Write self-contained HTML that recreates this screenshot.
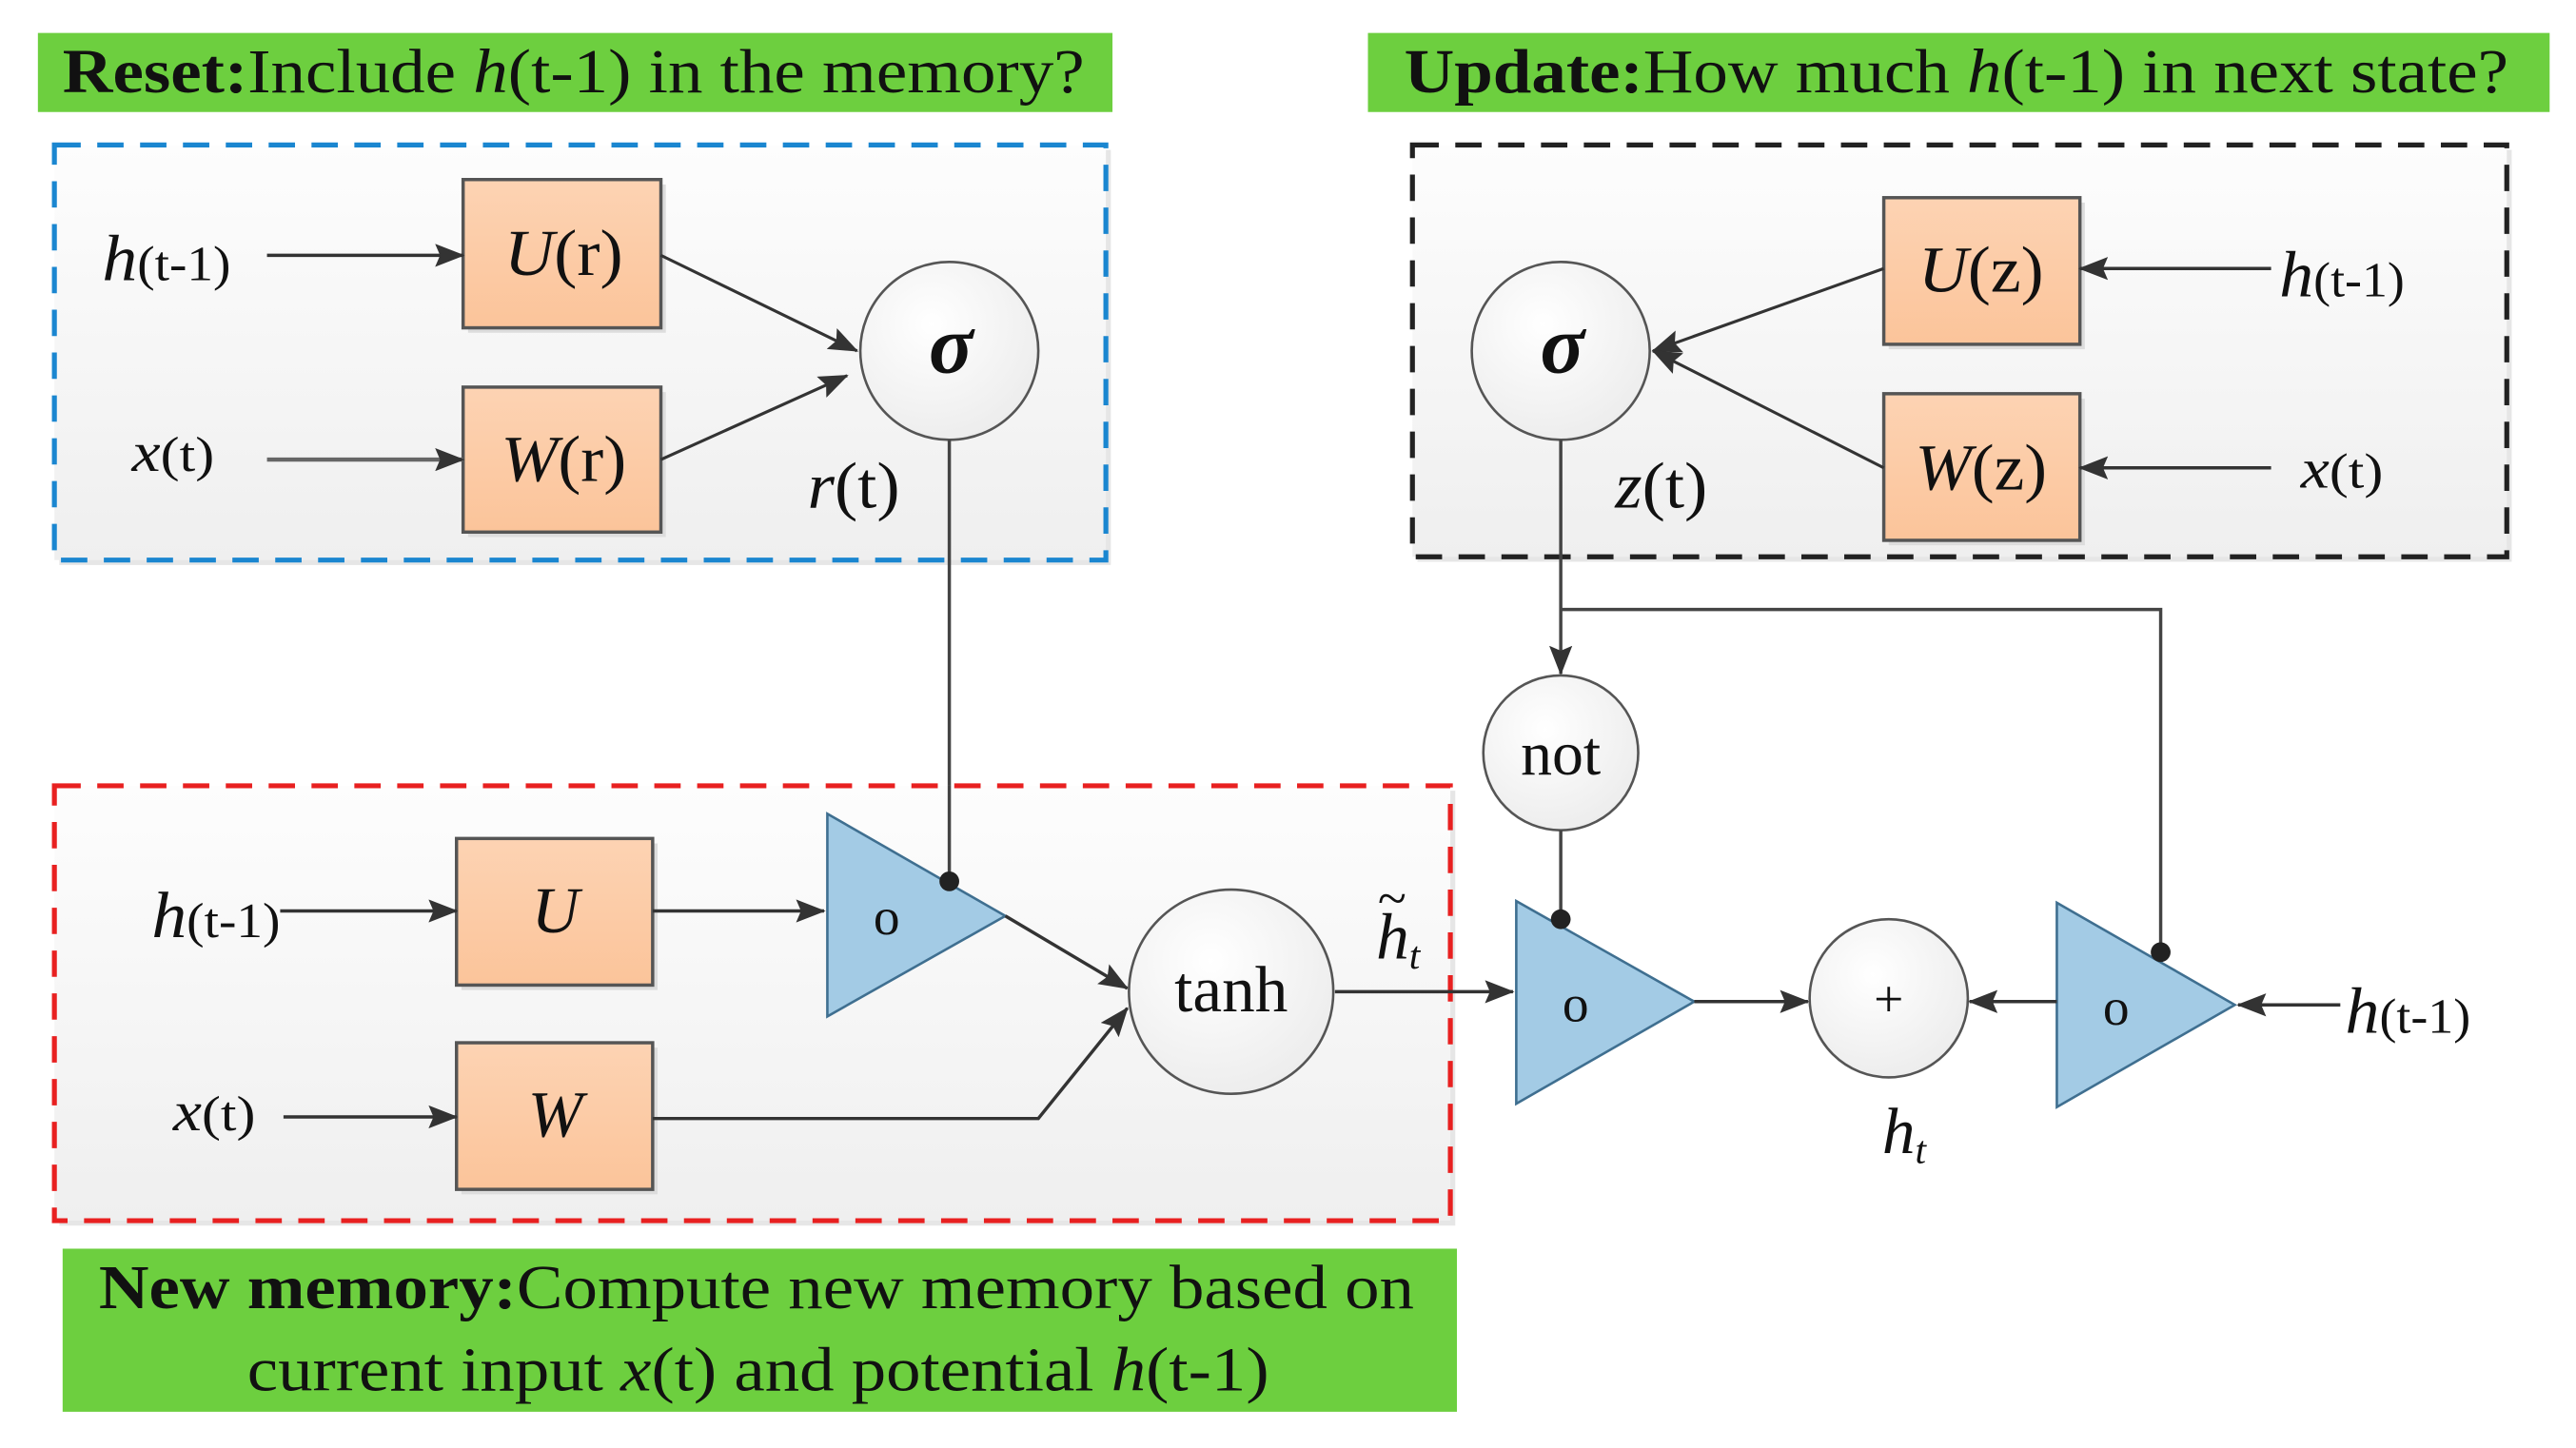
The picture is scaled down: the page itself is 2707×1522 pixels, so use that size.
<!DOCTYPE html>
<html><head><meta charset="utf-8"><style>
html,body{margin:0;padding:0;background:#fff}
svg{display:block}
text{font-family:"Liberation Serif",serif;fill:#111}
</style></head><body>
<svg width="2707" height="1522" viewBox="0 0 1563 879" preserveAspectRatio="none" xmlns="http://www.w3.org/2000/svg">
<defs>
<linearGradient id="bg" x1="0" y1="0" x2="0" y2="1"><stop offset="0" stop-color="#fdfdfd"/><stop offset="1" stop-color="#efefef"/></linearGradient>
<linearGradient id="org" x1="0" y1="0" x2="0" y2="1"><stop offset="0" stop-color="#fdd3b3"/><stop offset="1" stop-color="#fbc49a"/></linearGradient>
<radialGradient id="cir" cx="0.4" cy="0.35" r="0.7"><stop offset="0" stop-color="#ffffff"/><stop offset="1" stop-color="#ececec"/></radialGradient>
<marker id="arB" markerWidth="18" markerHeight="14" refX="17" refY="7" orient="auto" markerUnits="userSpaceOnUse"><path d="M0,0 L18,7 L0,14 L3,7 Z" fill="#333"/></marker>
</defs>

<!-- Banners -->
<rect x="23" y="20" width="652" height="48" fill="#6dcf3f"/>
<text x="38" y="56" font-size="38" textLength="620" lengthAdjust="spacingAndGlyphs"><tspan font-weight="bold">Reset:</tspan>Include <tspan font-style="italic">h</tspan>(t-1) in the memory?</text>
<rect x="830" y="20" width="717" height="48" fill="#6dcf3f"/>
<text x="852" y="56" font-size="38" textLength="670" lengthAdjust="spacingAndGlyphs"><tspan font-weight="bold">Update:</tspan>How much <tspan font-style="italic">h</tspan>(t-1) in next state?</text>
<rect x="38" y="758" width="846" height="99" fill="#6dcf3f"/>
<text x="60" y="794" font-size="38" textLength="798" lengthAdjust="spacingAndGlyphs"><tspan font-weight="bold">New memory:</tspan>Compute new memory based on</text>
<text x="150" y="844" font-size="38" textLength="620" lengthAdjust="spacingAndGlyphs">current input <tspan font-style="italic">x</tspan>(t) and potential <tspan font-style="italic">h</tspan>(t-1)</text>

<!-- Reset box -->
<rect x="36" y="91" width="638" height="252" fill="#e6e6e6"/>
<rect x="33" y="88" width="638" height="252" fill="url(#bg)" stroke="#1a86d0" stroke-width="3" stroke-dasharray="16,10"/>
<rect x="284" y="112" width="120" height="90" fill="#ddd"/>
<rect x="281" y="109" width="120" height="90" fill="url(#org)" stroke="#555" stroke-width="2"/>
<text x="306" y="167" font-size="40" textLength="72" lengthAdjust="spacingAndGlyphs"><tspan font-style="italic">U</tspan>(r)</text>
<rect x="284" y="238" width="120" height="88" fill="#ddd"/>
<rect x="281" y="235" width="120" height="88" fill="url(#org)" stroke="#555" stroke-width="2"/>
<text x="304" y="292" font-size="40" textLength="76" lengthAdjust="spacingAndGlyphs"><tspan font-style="italic">W</tspan>(r)</text>
<circle cx="576" cy="213" r="54" fill="url(#cir)" stroke="#555" stroke-width="1.5"/>
<text x="577" y="226" font-size="50" font-style="italic" font-weight="bold" text-anchor="middle">σ</text>
<text x="62" y="170" font-size="40" textLength="78" lengthAdjust="spacingAndGlyphs"><tspan font-style="italic">h</tspan><tspan font-size="30">(t-1)</tspan></text>
<text x="80" y="286" font-size="34" textLength="50" lengthAdjust="spacingAndGlyphs"><tspan font-style="italic">x</tspan><tspan font-size="30">(t)</tspan></text>
<line x1="162" y1="155" x2="281" y2="155" stroke="#333" stroke-width="2" marker-end="url(#arB)"/>
<line x1="162" y1="279" x2="281" y2="279" stroke="#666" stroke-width="2.5" marker-end="url(#arB)"/>
<line x1="401" y1="155" x2="520" y2="213" stroke="#333" stroke-width="1.8" marker-end="url(#arB)"/>
<line x1="401" y1="279" x2="514" y2="228" stroke="#333" stroke-width="1.8" marker-end="url(#arB)"/>
<text x="490" y="308" font-size="40" textLength="56" lengthAdjust="spacingAndGlyphs"><tspan font-style="italic">r</tspan>(t)</text>

<!-- Update box -->
<rect x="860" y="91" width="664" height="250" fill="#e6e6e6"/>
<rect x="857" y="88" width="664" height="250" fill="url(#bg)" stroke="#222" stroke-width="3" stroke-dasharray="16,10"/>
<rect x="1146" y="123" width="119" height="89" fill="#ddd"/>
<rect x="1143" y="120" width="119" height="89" fill="url(#org)" stroke="#555" stroke-width="2"/>
<text x="1164" y="177" font-size="40" textLength="76" lengthAdjust="spacingAndGlyphs"><tspan font-style="italic">U</tspan>(z)</text>
<rect x="1146" y="242" width="119" height="89" fill="#ddd"/>
<rect x="1143" y="239" width="119" height="89" fill="url(#org)" stroke="#555" stroke-width="2"/>
<text x="1162" y="297" font-size="40" textLength="80" lengthAdjust="spacingAndGlyphs"><tspan font-style="italic">W</tspan>(z)</text>
<circle cx="947" cy="213" r="54" fill="url(#cir)" stroke="#555" stroke-width="1.5"/>
<text x="948" y="226" font-size="50" font-style="italic" font-weight="bold" text-anchor="middle">σ</text>
<text x="1383" y="180" font-size="40" textLength="76" lengthAdjust="spacingAndGlyphs"><tspan font-style="italic">h</tspan><tspan font-size="30">(t-1)</tspan></text>
<text x="1396" y="296" font-size="34" textLength="50" lengthAdjust="spacingAndGlyphs"><tspan font-style="italic">x</tspan><tspan font-size="30">(t)</tspan></text>
<line x1="1378" y1="163" x2="1262" y2="163" stroke="#333" stroke-width="2" marker-end="url(#arB)"/>
<line x1="1378" y1="284" x2="1262" y2="284" stroke="#333" stroke-width="2" marker-end="url(#arB)"/>
<line x1="1143" y1="163" x2="1003" y2="213" stroke="#333" stroke-width="1.8" marker-end="url(#arB)"/>
<line x1="1143" y1="284" x2="1003" y2="213" stroke="#333" stroke-width="1.8" marker-end="url(#arB)"/>
<text x="980" y="308" font-size="40" textLength="56" lengthAdjust="spacingAndGlyphs"><tspan font-style="italic">z</tspan>(t)</text>

<!-- Connections from update -->
<line x1="947" y1="267" x2="947" y2="409" stroke="#444" stroke-width="2" marker-end="url(#arB)"/>
<polyline points="947,370 1311,370 1311,578" fill="none" stroke="#444" stroke-width="2"/>
<circle cx="947" cy="457" r="47" fill="url(#cir)" stroke="#555" stroke-width="1.5"/>
<text x="947" y="470" font-size="38" text-anchor="middle">not</text>
<line x1="947" y1="504" x2="947" y2="558" stroke="#444" stroke-width="2"/>

<line x1="576" y1="267" x2="576" y2="535" stroke="#444" stroke-width="2"/>

<!-- New memory box -->
<rect x="36" y="480" width="847" height="264" fill="#e6e6e6"/>
<rect x="33" y="477" width="847" height="264" fill="url(#bg)" stroke="#e82020" stroke-width="3" stroke-dasharray="16,10"/>
<line x1="576" y1="477" x2="576" y2="535" stroke="#444" stroke-width="2"/>
<rect x="280" y="512" width="119" height="89" fill="#ddd"/>
<rect x="277" y="509" width="119" height="89" fill="url(#org)" stroke="#555" stroke-width="2"/>
<text x="337" y="566" font-size="40" font-style="italic" text-anchor="middle">U</text>
<rect x="280" y="636" width="119" height="89" fill="#ddd"/>
<rect x="277" y="633" width="119" height="89" fill="url(#org)" stroke="#555" stroke-width="2"/>
<text x="337" y="690" font-size="40" font-style="italic" text-anchor="middle">W</text>
<text x="92" y="569" font-size="40" textLength="78" lengthAdjust="spacingAndGlyphs"><tspan font-style="italic">h</tspan><tspan font-size="30">(t-1)</tspan></text>
<text x="105" y="686" font-size="34" textLength="50" lengthAdjust="spacingAndGlyphs"><tspan font-style="italic">x</tspan><tspan font-size="30">(t)</tspan></text>
<line x1="170" y1="553" x2="277" y2="553" stroke="#333" stroke-width="2" marker-end="url(#arB)"/>
<line x1="172" y1="678" x2="277" y2="678" stroke="#333" stroke-width="2" marker-end="url(#arB)"/>
<line x1="396" y1="553" x2="500" y2="553" stroke="#333" stroke-width="2" marker-end="url(#arB)"/>
<polygon points="502,494 502,617 610,556" fill="#a3cbe5" stroke="#3f6f90" stroke-width="1.5"/>
<text x="538" y="567" font-size="32" text-anchor="middle">o</text>
<circle cx="576" cy="535" r="6" fill="#222"/>
<line x1="610" y1="556" x2="684" y2="600" stroke="#333" stroke-width="2" marker-end="url(#arB)"/>
<polyline points="396,679 630,679 684,612" fill="none" stroke="#333" stroke-width="2" marker-end="url(#arB)"/>
<circle cx="747" cy="602" r="62" fill="url(#cir)" stroke="#555" stroke-width="1.5"/>
<text x="747" y="614" font-size="40" text-anchor="middle">tanh</text>
<text x="835" y="582" font-size="40" font-style="italic">h<tspan font-size="24" dy="6">t</tspan></text>
<text x="836" y="556" font-size="32">~</text>

<!-- Output part -->
<line x1="810" y1="602" x2="918" y2="602" stroke="#333" stroke-width="2" marker-end="url(#arB)"/>
<polygon points="920,547 920,670 1028,608" fill="#a3cbe5" stroke="#3f6f90" stroke-width="1.5"/>
<text x="956" y="620" font-size="32" text-anchor="middle">o</text>
<circle cx="947" cy="558" r="6" fill="#222"/>
<line x1="1028" y1="608" x2="1097" y2="608" stroke="#333" stroke-width="2" marker-end="url(#arB)"/>
<circle cx="1146" cy="606" r="48" fill="url(#cir)" stroke="#555" stroke-width="1.5"/>
<text x="1146" y="617" font-size="32" text-anchor="middle">+</text>
<polygon points="1248,548 1248,672 1356,610" fill="#a3cbe5" stroke="#3f6f90" stroke-width="1.5"/>
<text x="1284" y="622" font-size="32" text-anchor="middle">o</text>
<circle cx="1311" cy="578" r="6" fill="#222"/>
<line x1="1248" y1="608" x2="1195" y2="608" stroke="#333" stroke-width="2" marker-end="url(#arB)"/>
<line x1="1420" y1="610" x2="1358" y2="610" stroke="#333" stroke-width="2" marker-end="url(#arB)"/>
<text x="1423" y="627" font-size="40" textLength="76" lengthAdjust="spacingAndGlyphs"><tspan font-style="italic">h</tspan><tspan font-size="30">(t-1)</tspan></text>
<text x="1142" y="700" font-size="40" font-style="italic">h<tspan font-size="24" dy="6">t</tspan></text>
</svg>
</body></html>
